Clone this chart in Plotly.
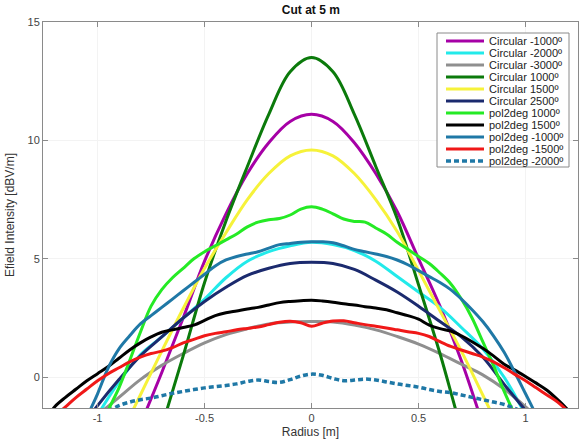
import plotly.graph_objects as go

# ---------------- data ----------------
X_CIRC_P1000 = [-0.8, -0.7, -0.6, -0.5, -0.4, -0.3, -0.2, -0.1, 0.0, 0.1, 0.2, 0.3, 0.4, 0.5, 0.6, 0.7, 0.8]
Y_CIRC_P1000 = [-5.0, -2.1, 0.9, 4.0, 6.6, 8.9, 11.1, 12.9, 13.5, 12.9, 11.1, 8.9, 6.7, 3.9, 1.0, -2.2, -5.0]

X_CIRC_M1000 = [-0.8, -0.7, -0.6, -0.5, -0.4, -0.3, -0.2, -0.1, 0.0, 0.1, 0.2, 0.3, 0.4, 0.5, 0.6, 0.7, 0.8]
Y_CIRC_M1000 = [-2.0, 0.2, 2.5, 4.9, 6.9, 8.6, 9.9, 10.8, 11.1, 10.8, 9.9, 8.6, 7.0, 5.0, 3.0, 0.7, -2.0]

X_CIRC_P1500 = [-0.9, -0.8, -0.7, -0.6, -0.5, -0.4, -0.3, -0.2, -0.1, 0.0, 0.1, 0.2, 0.3, 0.4, 0.5, 0.6, 0.7, 0.8, 0.9]
Y_CIRC_P1500 = [-2.6, -0.75, 1.1, 2.9, 4.6, 6.1, 7.5, 8.6, 9.35, 9.6, 9.35, 8.6, 7.5, 6.15, 4.5, 2.8, 1.1, -0.75, -2.6]

X_CIRC_M2000 = [-1.0, -0.9, -0.8, -0.7, -0.6, -0.5, -0.4, -0.3, -0.2, -0.1, 0.0, 0.1, 0.2, 0.3, 0.4, 0.5, 0.6, 0.7, 0.8, 0.9, 1.0]
Y_CIRC_M2000 = [-1.6, -0.2, 0.95, 1.7, 2.5, 3.3, 4.2, 4.9, 5.3, 5.55, 5.7, 5.6, 5.35, 4.9, 4.25, 3.6, 2.95, 2.1, 1.2, 0.0, -1.6]

X_CIRC_P2500 = [-1.1, -1.0, -0.9, -0.8, -0.7, -0.6, -0.5, -0.4, -0.3, -0.2, -0.1, 0.0, 0.1, 0.2, 0.3, 0.4, 0.5, 0.6, 0.7, 0.8, 0.9, 1.0, 1.1]
Y_CIRC_P2500 = [-2.4, -1.2, -0.1, 0.9, 1.7, 2.5, 3.2, 3.8, 4.3, 4.6, 4.8, 4.85, 4.8, 4.55, 4.1, 3.6, 3.0, 2.35, 1.7, 0.85, -0.3, -1.4, -2.5]

X_CIRC_M3000 = [-1.1, -1.0, -0.9, -0.8, -0.7, -0.6, -0.5, -0.4, -0.3, -0.2, -0.1, 0.0, 0.1, 0.2, 0.3, 0.4, 0.5, 0.6, 0.7, 0.8, 0.9, 1.0, 1.1]
Y_CIRC_M3000 = [-2.4, -1.6, -0.85, -0.1, 0.5, 1.0, 1.45, 1.8, 2.05, 2.25, 2.33, 2.35, 2.33, 2.2, 2.0, 1.72, 1.4, 1.0, 0.55, 0.1, -0.5, -1.25, -2.1]

X_POL = [round(-1.25 + 0.05 * i, 2) for i in range(51)]

Y_POL_P1000 = [None, None, None, None, None,
               -2.6, -1.4, -0.45, 0.7, 1.9, 3.0, 3.7, 4.2, 4.6, 5.0, 5.3, 5.55, 5.8, 6.05, 6.35, 6.55, 6.65, 6.7, 6.85, 7.1,
               7.2,
               7.1, 6.9, 6.68, 6.58, 6.55, 6.3, 6.05, 5.7, 5.4, 5.1, 4.8, 4.4, 3.95, 3.3, 2.5, 1.5, 0.5, -0.6, -1.6, -2.6,
               None, None, None, None, None]

Y_POL_P1500 = [-1.9, -1.25, -0.85, -0.5, -0.15, 0.15, 0.45, 0.8, 1.15, 1.45, 1.7, 1.9, 2.0, 2.1, 2.2, 2.4, 2.6, 2.72, 2.8, 2.88, 2.95, 3.05, 3.15, 3.2, 3.23,
               3.25,
               3.22, 3.17, 3.1, 3.05, 2.98, 2.92, 2.85, 2.72, 2.6, 2.45, 2.2, 2.05, 1.95, 1.75, 1.5, 1.22, 0.9, 0.55, 0.3, 0.03, -0.25, -0.55, -0.95, -1.4, -1.9]

Y_POL_M1000 = [None, None, None, -2.8, -1.7, -0.7, 0.4, 1.2, 1.75, 2.25, 2.6, 2.95, 3.3, 3.65, 4.0, 4.35, 4.7, 4.95, 5.1, 5.2, 5.3, 5.45, 5.6, 5.65, 5.7,
               5.72,
               5.72, 5.68, 5.55, 5.4, 5.3, 5.2, 5.1, 4.95, 4.75, 4.5, 4.25, 4.0, 3.7, 3.3, 2.85, 2.35, 1.75, 1.05, 0.2, -0.7, -1.6, -2.5, None, None, None]

Y_POL_M1500 = [-2.1, -1.65, -1.25, -0.85, -0.5, -0.15, 0.15, 0.4, 0.65, 0.85, 1.0, 1.1, 1.25, 1.45, 1.6, 1.75, 1.85, 1.92, 2.0, 2.06, 2.12, 2.22, 2.32, 2.36, 2.3,
               2.15,
               2.28, 2.37, 2.38, 2.3, 2.22, 2.15, 2.08, 2.0, 1.92, 1.85, 1.72, 1.5, 1.3, 1.15, 1.0, 0.85, 0.65, 0.4, 0.12, -0.15, -0.45, -0.75, -1.05, -1.45, -1.85]

Y_POL_M2000 = [None, None, None, None, None, None, -1.45, -1.2, -1.05, -0.95, -0.88, -0.78, -0.68, -0.6, -0.52, -0.45, -0.4, -0.35, -0.28, -0.18, -0.12, -0.18, -0.22, -0.1, 0.05,
               0.13,
               0.08, -0.05, -0.15, -0.12, -0.08, -0.12, -0.2, -0.28, -0.35, -0.42, -0.52, -0.6, -0.65, -0.75, -0.85, -0.95, -1.05, -1.15, -1.32, -1.5,
               None, None, None, None, None]

X_TICKS = [-1, -0.5, 0, 0.5, 1]
X_TICK_TEXT = ["-1", "-0.5", "0", "0.5", "1"]
Y_TICKS = [0, 5, 10, 15]

NAMES = ["Circular -1000º", "Circular -2000º", "Circular -3000º", "Circular 1000º",
         "Circular 1500º", "Circular 2500º", "pol2deg 1000º", "pol2deg 1500º",
         "pol2deg -1000º", "pol2deg -1500º", "pol2deg -2000º"]
XS = [X_CIRC_M1000, X_CIRC_M2000, X_CIRC_M3000, X_CIRC_P1000, X_CIRC_P1500, X_CIRC_P2500,
      X_POL, X_POL, X_POL, X_POL, X_POL]
YS = [Y_CIRC_M1000, Y_CIRC_M2000, Y_CIRC_M3000, Y_CIRC_P1000, Y_CIRC_P1500, Y_CIRC_P2500,
      Y_POL_P1000, Y_POL_P1500, Y_POL_M1000, Y_POL_M1500, Y_POL_M2000]

# ---------------- styles ----------------
STYLES = [
    dict(color="#a600a6", width=3),
    dict(color="#22eaea", width=3),
    dict(color="#8f8f8f", width=3),
    dict(color="#0b7a0b", width=3),
    dict(color="#f6f23a", width=3),
    dict(color="#1b2a6e", width=3),
    dict(color="#25ea25", width=3),
    dict(color="#000000", width=3),
    dict(color="#1f78a6", width=3),
    dict(color="#f01818", width=3),
    dict(color="#1f78a6", width=3.5, dash="5px,3px"),
]

W, H = 581, 444
ML, MR, MT, MB = 43, 3, 22, 36
PW, PH = W - ML - MR, H - MT - MB


def px2paper(px, py):
    return (px - ML) / PW, (H - MB - py) / PH


fig = go.Figure()
for name, xs, ys, st in zip(NAMES, XS, YS, STYLES):
    fig.add_trace(go.Scatter(
        x=xs, y=ys, name=name, mode="lines",
        line=dict(shape="spline", smoothing=1.0, **st),
        connectgaps=False, showlegend=False,
    ))

# ---------------- manual compact legend (MATLAB-like) ----------------
shapes = []
annotations = []
bx0, by0 = px2paper(437, 33)
bx1, by1 = px2paper(569, 167)
shapes.append(dict(type="rect", xref="paper", yref="paper", x0=bx0, y0=by1, x1=bx1, y1=by0,
                   line=dict(color="#8a8a8a", width=1), fillcolor="white", layer="above"))
row0, step = 41.0, 12.0
for i, (name, st) in enumerate(zip(NAMES, STYLES)):
    py = row0 + i * step
    lx0, ly = px2paper(446, py)
    lx1, _ = px2paper(484, py)
    ln = dict(color=st["color"], width=st["width"])
    if "dash" in st:
        ln["dash"] = st["dash"]
    shapes.append(dict(type="line", xref="paper", yref="paper", x0=lx0, x1=lx1, y0=ly, y1=ly,
                       line=ln, layer="above"))
    tx, _ = px2paper(487, py)
    annotations.append(dict(xref="paper", yref="paper", x=tx, y=ly, text=name, showarrow=False,
                            xanchor="left", yanchor="middle",
                            font=dict(family="Arial", size=11, color="#222222")))

axis_common = dict(
    showline=True, linecolor="#8a8a8a", linewidth=1, mirror="ticks",
    ticks="inside", ticklen=5, tickcolor="#8a8a8a",
    showgrid=True, gridcolor="#f3f3f3", gridwidth=1,
    zeroline=False,
    tickfont=dict(family="Arial", size=11, color="#444444"),
)

fig.update_layout(
    width=W, height=H,
    margin=dict(l=ML, r=MR, t=MT, b=MB),
    paper_bgcolor="white", plot_bgcolor="white",
    title=dict(text="<b>Cut at 5 m</b>", x=0.535, xanchor="center", y=0.978, yanchor="middle",
               font=dict(family="Arial", size=12, color="#111111")),
    xaxis=dict(range=[-1.255, 1.245], tickvals=X_TICKS, ticktext=X_TICK_TEXT,
               title=dict(text="Radius [m]", font=dict(family="Arial", size=12, color="#333333"), standoff=4),
               **axis_common),
    yaxis=dict(range=[-1.3, 15], tickvals=Y_TICKS,
               title=dict(text="Efield Intensity [dBV/m]", font=dict(family="Arial", size=12, color="#333333"), standoff=10),
               **axis_common),
    shapes=shapes,
    annotations=annotations,
    showlegend=False,
)

fig.write_html("out.html")
